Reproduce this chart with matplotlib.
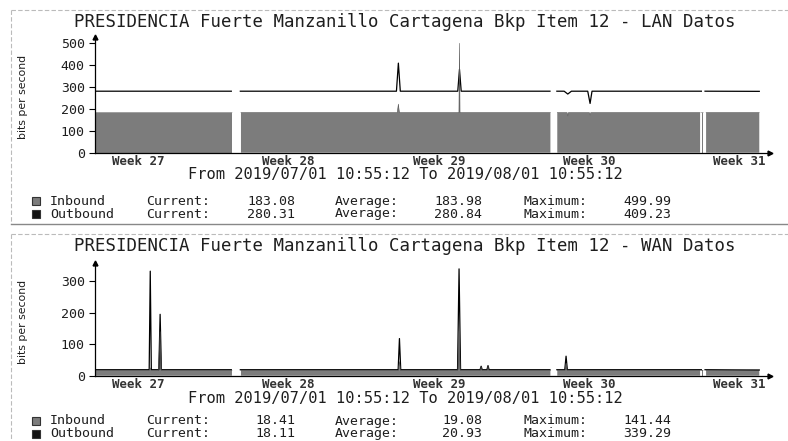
import numpy as np
import matplotlib.pyplot as plt
from matplotlib.patches import Rectangle

nan = np.nan

# --- data (days since 2019/07/01 10:55:12, bits per second) ---
week_labels = ["Week 27", "Week 28", "Week 29", "Week 30", "Week 31"]
week_pos = [2.05, 9.05, 16.07, 23.08, 30.05]

lan_in_days = [0, 6.41, 6.62, 6.83, 14.12, 14.17, 14.22, 16.995, 17.02, 17.045,
               21.26, 21.42, 21.58, 22.04, 22.07, 22.10, 23.08, 23.11, 23.14,
               28.24, 28.27, 28.31, 28.38, 28.45, 28.52, 31.0]
lan_in_vals = [183, 183, nan, 183, 183, 222, 183, 183, 499.99, 183,
               183, nan, 183, 183, 168, 183, 183, 172, 183,
               183, nan, 183, 183, nan, 183, 183.08]

lan_out_days = [0, 6.38, 6.60, 6.80, 14.08, 14.17, 14.26, 16.94, 17.02, 17.10,
                21.24, 21.40, 21.56, 21.90, 22.07, 22.24, 23.00, 23.11, 23.20,
                28.30, 28.38, 28.47, 31.0]
lan_out_vals = [281, 281, nan, 281, 281, 409.23, 281, 281, 381, 281,
                281, nan, 281, 281, 268, 281, 281, 225, 281,
                281, nan, 281, 280.31]

wan_in_days = [0, 2.57, 2.60, 2.63, 2.98, 3.06, 3.12, 6.41, 6.62, 6.83,
               14.16, 14.22, 14.28, 16.94, 17.0, 17.06, 17.98, 18.03, 18.08,
               18.30, 18.35, 18.40, 21.26, 21.42, 21.58, 21.94, 21.99, 22.04,
               28.24, 28.27, 28.31, 28.38, 28.45, 28.52, 31.0]
wan_in_vals = [17, 17, 25, 17, 17, 140, 17, 17, nan, 17,
               17, 45, 17, 17, 141.44, 17, 17, 28, 17,
               17, 30, 17, 17, nan, 17, 17, 40, 17,
               17, nan, 17, 17, nan, 17, 18.41]

wan_out_days = [0, 2.55, 2.60, 2.65, 3.00, 3.06, 3.12, 6.38, 6.60, 6.80,
                14.16, 14.22, 14.28, 16.93, 17.0, 17.07, 17.98, 18.03, 18.08,
                18.30, 18.35, 18.40, 21.24, 21.40, 21.56, 21.93, 21.99, 22.05,
                28.30, 28.38, 28.47, 31.0]
wan_out_vals = [19, 19, 332, 19, 19, 195, 19, 19, nan, 19,
                19, 118, 19, 19, 339.29, 19, 19, 30, 19,
                19, 32, 19, 19, nan, 19, 19, 62, 19,
                19, nan, 19, 18.11]

lan_stats = [["183.08", "183.98", "499.99"], ["280.31", "280.84", "409.23"]]
wan_stats = [["18.41", "19.08", "141.44"], ["18.11", "20.93", "339.29"]]

W, H = 788, 441
IN_COLOR = "#7c7c7c"
TXT = "#1e1e1e"
MONO = "DejaVu Sans Mono"

fig = plt.figure(figsize=(W / 100, H / 100), dpi=100)


def fx(px):
    return px / W


def fy(py):
    return 1 - py / H


def panel(dy, ax_top, ax_bot, ymax, yticks, title, d_in, v_in, d_out, v_out, stats, rows):
    # light border of the printed panel
    fig.add_artist(plt.Line2D([fx(11), fx(788)], [fy(10 + dy), fy(10 + dy)],
                              color="#bbbbbb", lw=0.8, ls=(0, (4, 2))))
    fig.add_artist(plt.Line2D([fx(11), fx(11)], [fy(10 + dy), fy(224 + dy)],
                              color="#bbbbbb", lw=0.8, ls=(0, (4, 2))))
    fig.add_artist(plt.Line2D([fx(11), fx(788)], [fy(223.5 + dy), fy(223.5 + dy)],
                              color="#888888", lw=1.0))

    fig.text(fx(405), fy(22 + dy), title, family=MONO, fontsize=12.5,
             ha="center", va="center", color=TXT)

    left, right = 94.5, 770
    ax = fig.add_axes([fx(left), fy(ax_bot), (right - left) / W, (ax_bot - ax_top) / H])
    ax.fill_between(d_in, 0, v_in, color=IN_COLOR, lw=0)
    ax.plot(d_out, v_out, color="black", lw=0.9)
    ax.plot(d_in, v_in, color="#555555", lw=0.4)
    ax.set_xlim(0, 31.5)
    ax.set_ylim(0, ymax)
    for s in ("top", "right"):
        ax.spines[s].set_visible(False)
    for s in ("left", "bottom"):
        ax.spines[s].set_linewidth(0.9)
    ax.plot([0], [1], marker="^", ms=3.5, color="black", transform=ax.transAxes, clip_on=False)
    ax.plot([1], [0], marker=">", ms=3.5, color="black", transform=ax.transAxes, clip_on=False)
    ax.set_yticks(yticks)
    ax.set_yticklabels([str(t) for t in yticks], family=MONO, fontsize=9.5, color=TXT)
    ax.tick_params(axis="y", length=4, width=0.8, pad=3)
    ax.set_xticks(week_pos)
    ax.set_xticklabels(week_labels, family=MONO, fontsize=9, fontweight="bold", color="#333333")
    ax.tick_params(axis="x", length=0, pad=1.5)
    ax.patch.set_alpha(0)

    fig.text(fx(23), fy((ax_top + ax_bot) / 2 + 2), "bits per second", rotation=90,
             fontsize=7.8, ha="center", va="center", color=TXT)

    fig.text(fx(405.5), fy(175 + dy), "From 2019/07/01 10:55:12 To 2019/08/01 10:55:12",
             family=MONO, fontsize=11.1, ha="center", va="center", color=TXT)

    names = ["Inbound", "Outbound"]
    colors = [IN_COLOR, "#111111"]
    for i, (name, col) in enumerate(zip(names, colors)):
        base = rows[i]
        fig.add_artist(Rectangle((fx(32), fy(base + 0.5)), 8 / W, 8 / H, transform=fig.transFigure,
                                 facecolor=col, edgecolor="#333333", lw=0.8))
        kw = dict(family=MONO, fontsize=9.5, va="baseline", color=TXT)
        fig.text(fx(50), fy(base), name, **kw)
        fig.text(fx(145.7), fy(base), "Current:", **kw)
        fig.text(fx(295), fy(base), stats[i][0], ha="right", **kw)
        fig.text(fx(335), fy(base), "Average:", **kw)
        fig.text(fx(482), fy(base), stats[i][1], ha="right", **kw)
        fig.text(fx(523.3), fy(base), "Maximum:", **kw)
        fig.text(fx(671), fy(base), stats[i][2], ha="right", **kw)


panel(0, 36.7, 152.7, 530, [0, 100, 200, 300, 400, 500],
      "PRESIDENCIA Fuerte Manzanillo Cartagena Bkp Item 12 - LAN Datos",
      lan_in_days, lan_in_vals, lan_out_days, lan_out_vals, lan_stats, [205, 217.5])
panel(224, 263.3, 375.7, 357, [0, 100, 200, 300],
      "PRESIDENCIA Fuerte Manzanillo Cartagena Bkp Item 12 - WAN Datos",
      wan_in_days, wan_in_vals, wan_out_days, wan_out_vals, wan_stats, [424.5, 437])

fig.savefig("out.png", dpi=100, facecolor="white")
